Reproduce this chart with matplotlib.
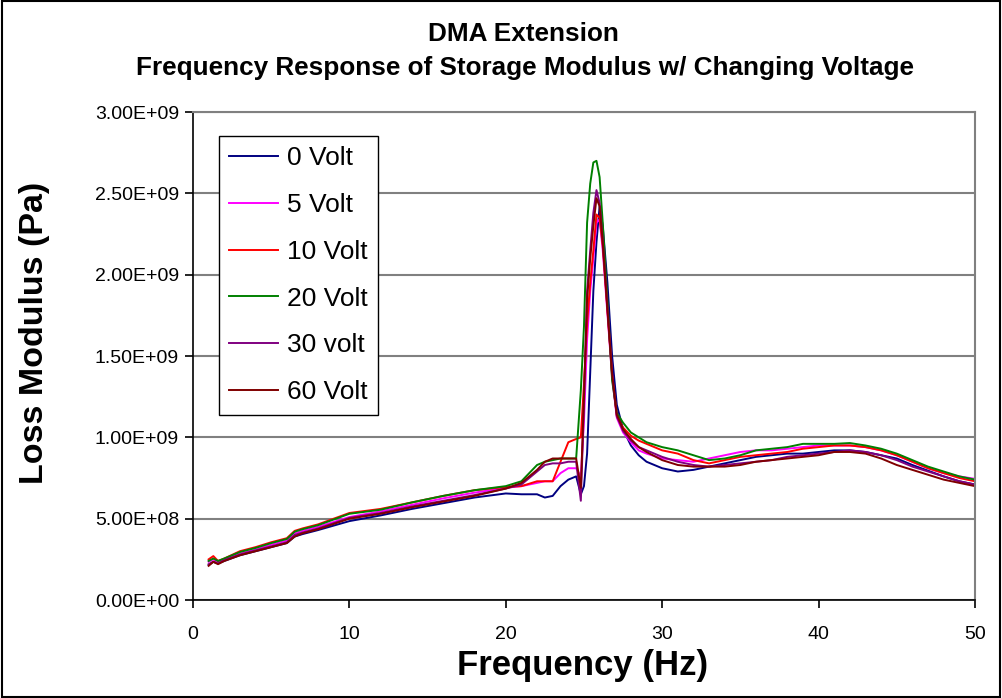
import matplotlib.pyplot as plt
from matplotlib.patches import Rectangle
from matplotlib.ticker import FuncFormatter

plt.rcParams['font.family'] = ['Liberation Sans', 'DejaVu Sans']

# frequency grid (Hz)
freq = [1, 1.3, 1.6, 2, 3, 4, 5, 6, 6.5, 7, 8, 10, 12, 14, 16, 18, 20, 21, 22, 22.5, 23, 23.5, 24, 24.5,
        24.8, 25.0, 25.2, 25.4, 25.6, 25.8, 26.0, 26.2, 26.5, 26.8, 27.1, 27.5, 28, 28.5, 29, 30, 31, 32,
        33, 34, 35, 36, 37, 38, 39, 40, 41, 42, 43, 44, 45, 46, 47, 48, 49, 50]

# loss modulus in units of 1e8 Pa
v0 = [2.15, 2.35, 2.25, 2.4, 2.75, 3.0, 3.25, 3.5, 3.9, 4.05, 4.3, 4.85, 5.2, 5.6, 5.95, 6.3, 6.55, 6.5, 6.5, 6.3, 6.4, 7.0, 7.4, 7.6,
      6.5, 7.0, 9.0, 14.0, 19.0, 22.0, 24.2, 23.0, 19.5, 15.0, 12.0, 10.5, 9.5, 8.9, 8.5, 8.1, 7.9, 8.0,
      8.2, 8.4, 8.6, 8.8, 8.9, 9.0, 9.0, 9.1, 9.2, 9.2, 9.1, 8.9, 8.7, 8.3, 7.95, 7.6, 7.3, 7.1]
v5 = [2.35, 2.5, 2.3, 2.5, 2.85, 3.1, 3.4, 3.65, 4.1, 4.25, 4.5, 5.1, 5.45, 5.85, 6.25, 6.6, 6.9, 7.0, 7.2, 7.3, 7.3, 7.8, 8.1, 8.1,
      7.6, 11.0, 16.0, 19.0, 21.0, 23.2, 23.4, 21.5, 17.6, 13.7, 11.2, 10.3, 9.7, 9.2, 9.0, 8.7, 8.6, 8.5,
      8.7, 8.9, 9.1, 9.2, 9.2, 9.3, 9.4, 9.5, 9.5, 9.5, 9.4, 9.2, 8.9, 8.5, 8.1, 7.8, 7.6, 7.45]
v10 = [2.5, 2.7, 2.4, 2.55, 3.0, 3.25, 3.55, 3.8, 4.25, 4.4, 4.65, 5.35, 5.6, 6.0, 6.4, 6.75, 6.95, 7.0, 7.3, 7.3, 7.3, 8.5, 9.7, 9.9,
       10.0, 13.3, 17.0, 19.5, 21.5, 23.7, 23.5, 21.8, 17.8, 13.8, 11.3, 10.6, 10.1, 9.8, 9.6, 9.2, 9.0, 8.6,
       8.4, 8.6, 8.8, 8.9, 9.0, 9.1, 9.3, 9.4, 9.5, 9.5, 9.4, 9.2, 8.9, 8.5, 8.1, 7.8, 7.5, 7.3]
v20 = [2.4, 2.55, 2.4, 2.55, 2.95, 3.2, 3.5, 3.75, 4.2, 4.35, 4.6, 5.3, 5.55, 6.0, 6.4, 6.75, 7.0, 7.3, 8.3, 8.5, 8.6, 8.7, 8.7, 8.7,
       12.9, 16.8, 23.2, 25.6, 26.9, 27.0, 26.0, 23.2, 18.4, 13.5, 11.5, 10.9, 10.3, 10.0, 9.7, 9.4, 9.2, 8.9,
       8.6, 8.7, 8.9, 9.2, 9.3, 9.4, 9.6, 9.6, 9.6, 9.65, 9.5, 9.3, 9.0, 8.6, 8.2, 7.9, 7.6, 7.4]
v30 = [2.2, 2.35, 2.25, 2.45, 2.8, 3.05, 3.3, 3.55, 4.0, 4.15, 4.4, 5.05, 5.35, 5.75, 6.1, 6.45, 6.85, 7.1, 7.9, 8.3, 8.4, 8.4, 8.5, 8.5,
       6.1, 12.0, 19.0, 21.5, 23.8, 25.2, 24.4, 22.1, 18.0, 14.0, 11.3, 10.4, 9.8, 9.4, 9.2, 8.8, 8.5, 8.3,
       8.2, 8.3, 8.4, 8.5, 8.6, 8.8, 8.9, 9.0, 9.1, 9.2, 9.1, 8.9, 8.6, 8.2, 7.9, 7.6, 7.3, 7.1]
v60 = [2.1, 2.35, 2.2, 2.4, 2.75, 3.0, 3.25, 3.5, 3.9, 4.1, 4.35, 5.0, 5.3, 5.7, 6.05, 6.4, 6.85, 7.2, 8.0, 8.5, 8.7, 8.7, 8.7, 8.7,
       6.9, 12.5, 18.5, 21.0, 23.0, 24.7, 24.2, 22.0, 17.9, 13.9, 11.4, 10.5, 9.9, 9.4, 9.1, 8.6, 8.3, 8.2,
       8.2, 8.2, 8.3, 8.5, 8.6, 8.7, 8.8, 8.9, 9.1, 9.1, 9.0, 8.7, 8.3, 8.0, 7.7, 7.4, 7.2, 7.0]

labels = ['0 Volt', '5 Volt', '10 Volt', '20 Volt', '30 volt', '60 Volt']
series = [v0, v5, v10, v20, v30, v60]
colors = ['#000080', '#FF00FF', '#FF0000', '#008000', '#800080', '#800000']

fig = plt.figure(figsize=(10.02, 6.98), dpi=100)
ax = fig.add_axes([0.1926, 0.1404, 0.7804, 0.6991])

for vals, lab, col in zip(series, labels, colors):
    ax.plot(freq, [v * 1e8 for v in vals], color=col, lw=1.4, label=lab)

ax.set_xlim(0, 50)
ax.set_ylim(0, 3e9)
ax.set_xticks([0, 10, 20, 30, 40, 50])
ax.set_yticks([0, 5e8, 1e9, 1.5e9, 2e9, 2.5e9, 3e9])
ax.yaxis.set_major_formatter(FuncFormatter(lambda v, p: f"{v:.2E}"))
ax.grid(axis='y', color='#808080', lw=1.5)
ax.set_axisbelow(True)
ax.tick_params(labelsize=14, direction='out', length=6, width=1.2, color='black')
ax.tick_params(axis='y', pad=4)
ax.tick_params(axis='x', pad=13)

for s in ['top', 'right']:
    ax.spines[s].set_color('#808080')
    ax.spines[s].set_linewidth(1.5)
for s in ['left', 'bottom']:
    ax.spines[s].set_color('black')
    ax.spines[s].set_linewidth(1.2)

# axis titles
fig.text(0.581, 0.046, 'Frequency (Hz)', ha='center', va='center', fontsize=25, fontweight='bold')
fig.text(0.034, 0.523, 'Loss Modulus (Pa)', ha='center', va='center', rotation=90,
         fontsize=24.5, fontweight='bold')
fig.text(0.522, 0.952, 'DMA Extension', ha='center', va='center', fontsize=18.8, fontweight='bold')
fig.text(0.524, 0.902, 'Frequency Response of Storage Modulus w/ Changing Voltage',
         ha='center', va='center', fontsize=18.8, fontweight='bold')

leg = ax.legend(loc='upper left', bbox_to_anchor=(0.033, 0.951), borderaxespad=0, fontsize=19,
                fancybox=False, framealpha=1, edgecolor='black', handlelength=1.85,
                handletextpad=0.34, labelspacing=0.86, borderpad=0.4)
leg.get_frame().set_linewidth(1.0)

fig.patches.append(Rectangle((0.002, 0.002), 0.996, 0.996, transform=fig.transFigure,
                             fill=False, edgecolor='black', lw=1.5))

fig.savefig('out.png', dpi=100)
